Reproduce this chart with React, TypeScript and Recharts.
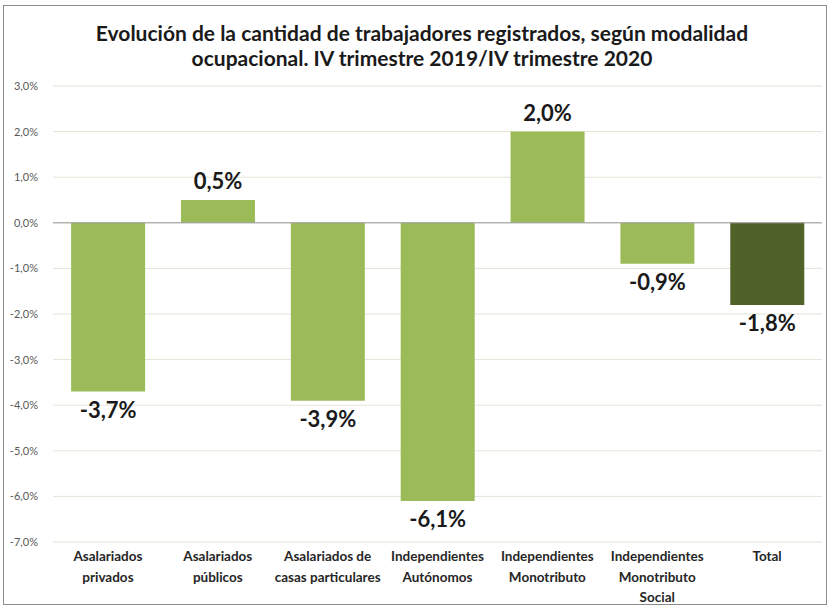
import { BarChart, Bar, XAxis, YAxis, CartesianGrid, Cell, LabelList, ReferenceLine } from "recharts";

const categories = [
  "Asalariados|privados",
  "Asalariados|públicos",
  "Asalariados de|casas particulares",
  "Independientes|Autónomos",
  "Independientes|Monotributo",
  "Independientes|Monotributo|Social",
  "Total",
];
const variation = [-3.7, 0.5, -3.9, -6.1, 2.0, -0.9, -1.8];
const yTicks = [-7, -6, -5, -4, -3, -2, -1, 0, 1, 2, 3];

const data = categories.map((name, i) => ({ name, value: variation[i] }));

const FONT = "Lato, 'Open Sans', sans-serif";

const fmt = (v: number, d = 1) => `${v.toFixed(d).replace(".", ",")}%`;

// eslint-disable-next-line @typescript-eslint/no-explicit-any
function CategoryTick({ x, y, payload }: any) {
  const lines = String(payload.value).split("|");
  return (
    <text x={x} y={y} textAnchor="middle" fontFamily={FONT} fontSize={13.5} fontWeight={700} fill="#262626">
      {lines.map((l, i) => (
        <tspan key={i} x={x} dy={i === 0 ? 11 : 20.5}>
          {l}
        </tspan>
      ))}
    </text>
  );
}

// eslint-disable-next-line @typescript-eslint/no-explicit-any
function ValueLabel({ x, y, width, height, value }: any) {
  const top = Math.min(y, y + height);
  const bottom = Math.max(y, y + height);
  const ty = value >= 0 ? top - 11 : bottom + 26;
  return (
    <text x={x + width / 2} y={ty} textAnchor="middle" fontFamily={FONT} fontSize={22} fontWeight={700} fill="#1a1a1a">
      {fmt(value)}
    </text>
  );
}

export default function App() {
  return (
    <div
      style={{
        position: "absolute",
        left: 3,
        top: 5,
        width: 822,
        height: 598,
        border: "1px solid #8c8c8c",
        background: "#fff",
      }}
    >
      <div
        style={{
          position: "absolute",
          top: 14,
          left: 0,
          width: 836,
          textAlign: "center",
          fontFamily: FONT,
          fontWeight: 700,
          fontSize: 21,
          lineHeight: "25px",
          color: "#1a1a1a",
        }}
      >
        Evolución de la cantidad de trabajadores registrados, según modalidad
        <br />
        ocupacional. IV trimestre 2019/IV trimestre 2020
      </div>
      <BarChart
        width={822}
        height={598}
        data={data}
        margin={{ top: 80, right: 4, bottom: 2, left: 0 }}
        barCategoryGap="16.5%"
      >
        <CartesianGrid vertical={false} stroke="#e4e4d8" />
        <XAxis
          dataKey="name"
          axisLine={false}
          tickLine={false}
          height={60}
          interval={0}
          tick={<CategoryTick />}
        />
        <YAxis
          domain={[-7, 3]}
          ticks={yTicks}
          width={49}
          axisLine={false}
          tickLine={false}
          tickFormatter={(v: number) => fmt(v)}
          tick={{ fontSize: 11, fill: "#595959", fontFamily: FONT, dx: -7 }}
        />
        <ReferenceLine y={0} stroke="#9a9a9a" />
        <Bar dataKey="value" isAnimationActive={false}>
          {data.map((d, i) => (
            <Cell key={d.name} fill={i === data.length - 1 ? "#4f6228" : "#9bbb59"} />
          ))}
          <LabelList dataKey="value" content={<ValueLabel />} />
        </Bar>
      </BarChart>
    </div>
  );
}
